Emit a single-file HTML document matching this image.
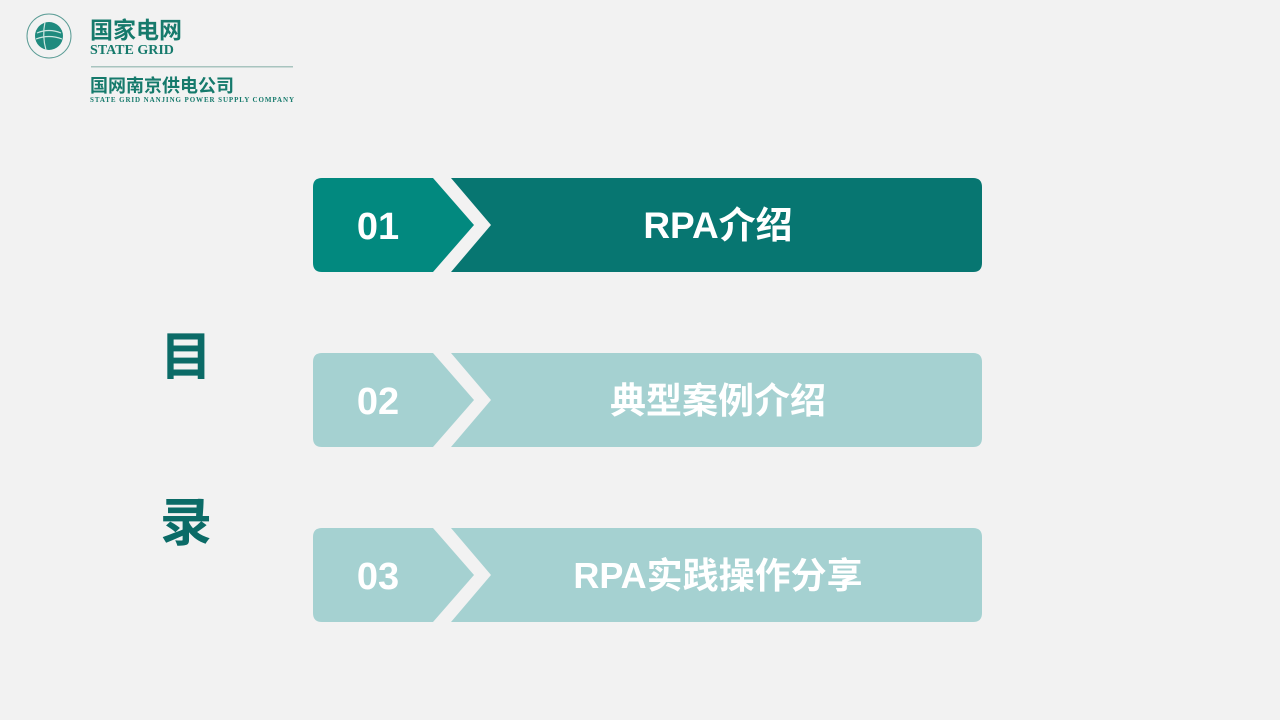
<!DOCTYPE html>
<html><head><meta charset="utf-8"><style>
html,body{margin:0;padding:0;background:#f2f2f2;}
svg{display:block}
.t{font-family:"Liberation Sans","Noto Sans CJK SC",sans-serif;font-weight:bold;}
</style></head><body>
<svg width="1280" height="720" viewBox="0 0 1280 720">
<rect width="1280" height="720" fill="#f2f2f2"/>
<circle cx="49" cy="36" r="22" fill="none" stroke="#5a9c95" stroke-width="1"/>
<circle cx="49" cy="36" r="14" fill="#1f8a7e"/>
<path d="M37 33 Q49 28 61 33 M36 39 Q49 34 62 39 M45 22 Q42 36 46 50" stroke="#cde6e1" stroke-width="1.2" fill="none"/>
<text x="90" y="38" class="t" font-size="23" fill="#167a6c">国家电网</text>
<text x="90" y="54" font-family="Liberation Serif,serif" font-weight="bold" font-size="14" fill="#167a6c">STATE GRID</text>
<rect x="91" y="66" width="202" height="1.5" fill="#a8c4bf"/>
<text x="90" y="92" class="t" font-size="18" fill="#167a6c">国网南京供电公司</text>
<text x="90" y="102" font-family="Liberation Serif,serif" font-weight="bold" font-size="7" fill="#167a6c" textLength="204">STATE GRID NANJING POWER SUPPLY COMPANY</text>
<text x="186" y="375" class="t" font-size="52" fill="#0b6b67" text-anchor="middle">目</text>
<text x="186" y="541" class="t" font-size="52" fill="#0b6b67" text-anchor="middle">录</text>
<g>
<path d="M322 178 H433 L474 225 L433 272 H322 Q313 272 313 263 V187 Q313 178 322 178Z" fill="#02897f"/>
<path d="M451 178 H973 Q982 178 982 187 V263 Q982 272 973 272 H451 L491 225Z" fill="#077671"/>
<text x="378" y="239" class="t" font-size="38" fill="#fff" text-anchor="middle">01</text>
<text x="718" y="238" class="t" font-size="37" fill="#fff" text-anchor="middle">RPA介绍</text>
</g>
<g>
<path d="M322 353 H433 L474 400 L433 447 H322 Q313 447 313 438 V362 Q313 353 322 353Z" fill="#a5d1d1"/>
<path d="M451 353 H973 Q982 353 982 362 V438 Q982 447 973 447 H451 L491 400Z" fill="#a5d1d1"/>
<text x="378" y="414" class="t" font-size="38" fill="#fff" text-anchor="middle">02</text>
<text x="718" y="413" class="t" font-size="36" fill="#fff" text-anchor="middle">典型案例介绍</text>
</g>
<g>
<path d="M322 528 H433 L474 575 L433 622 H322 Q313 622 313 613 V537 Q313 528 322 528Z" fill="#a5d1d1"/>
<path d="M451 528 H973 Q982 528 982 537 V613 Q982 622 973 622 H451 L491 575Z" fill="#a5d1d1"/>
<text x="378" y="589" class="t" font-size="38" fill="#fff" text-anchor="middle">03</text>
<text x="718" y="588" class="t" font-size="36" fill="#fff" text-anchor="middle">RPA实践操作分享</text>
</g>
</svg>
</body></html>
